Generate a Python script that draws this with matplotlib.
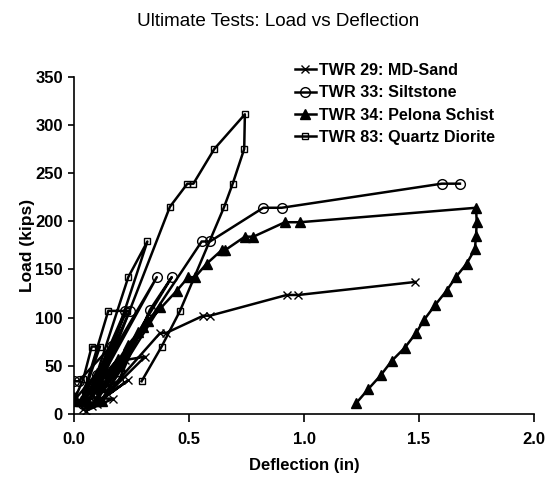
import matplotlib
matplotlib.use("Agg")
import matplotlib.pyplot as plt
import numpy as np

plt.rcParams["font.family"] = ["Liberation Sans", "DejaVu Sans"]

# TWR 29: MD-Sand
md_x = [0.0, 0.04, 0.12, 0.171, 0.05, 0.236, 0.08, 0.222, 0.309, 0.10, 0.374, 0.40, 0.562, 0.591,
        0.925, 0.975, 1.483]
md_y = [21, 5, 16, 16, 3, 35, 8, 56, 59.5, 10, 84, 84, 102, 102,
        123.5, 123.5, 137]

# TWR 33: Siltstone
ss_x = [0.0, 0.02, 0.164, 0.04, 0.10, 0.222, 0.243, 0.06, 0.36, 0.06, 0.193, 0.33, 0.425, 0.14,
        0.555, 0.591, 0.823, 0.903, 1.599, 1.678]
ss_y = [34, 34, 71, 10, 40, 107, 107, 12, 142, 20, 34, 108, 142, 30,
        179, 179, 214, 214, 239, 239]

# TWR 34: Pelona Schist
ps_x = [0.0, 0.05, 0.10, 0.03, 0.09, 0.14, 0.19, 0.06, 0.12, 0.236, 0.28, 0.09, 0.20, 0.323, 0.374,
        0.12, 0.30, 0.447, 0.497, 0.526, 0.577, 0.642, 0.657, 0.743, 0.78, 0.917, 0.983,
        1.748, 1.751, 1.748, 1.743, 1.707, 1.66, 1.62, 1.57, 1.523, 1.487, 1.439, 1.381, 1.333,
        1.28, 1.226]
ps_y = [14, 28, 43, 14, 28, 43, 57, 14, 28, 72, 85, 14, 50, 97, 111,
        14, 90, 128, 142, 142, 156, 170, 170, 184, 184, 199, 199,
        214, 199, 185, 171, 156, 142, 128, 113, 98, 84, 69, 55, 40,
        26, 11]

# TWR 83: Quartz Diorite
qd_x = [0.0, 0.04, 0.077, 0.113, 0.03, 0.149, 0.229, 0.07, 0.236, 0.319, 0.10, 0.417, 0.493, 0.519,
        0.61, 0.743, 0.74, 0.69, 0.653, 0.461, 0.381, 0.294]
qd_y = [14, 36, 70, 70, 12, 107, 107, 20, 142, 179, 20, 215, 239, 239,
        275, 311, 275, 239, 215, 107, 70, 34]

fig = plt.figure(figsize=(5.56, 4.79), dpi=100)
ax = fig.add_axes([74 / 556, 1 - 414 / 479, 460 / 556, 337.3 / 479])

lw = 1.8
ax.plot(md_x, md_y, color="black", lw=lw, marker="x", ms=6, mew=1.0, label="TWR 29: MD-Sand")
ax.plot(ss_x, ss_y, color="black", lw=lw, marker="o", ms=7, mfc="none", mew=1.0, label="TWR 33: Siltstone")
ax.plot(ps_x, ps_y, color="black", lw=lw, marker="^", ms=7.5, mfc="black", label="TWR 34: Pelona Schist")
ax.plot(qd_x, qd_y, color="black", lw=lw, marker="s", ms=4.5, mfc="none", mew=1.0, label="TWR 83: Quartz Diorite")

ax.set_xlim(0, 2.0)
ax.set_ylim(0, 350)
ax.set_xticks(np.arange(0, 2.01, 0.5))
ax.set_yticks(np.arange(0, 351, 50))
ax.xaxis.set_major_formatter(matplotlib.ticker.FormatStrFormatter("%.1f"))
for s in ["top", "right"]:
    ax.spines[s].set_visible(False)
for s in ["left", "bottom"]:
    ax.spines[s].set_linewidth(1.2)
ax.tick_params(width=1.2, labelsize=12)
ax.tick_params(axis="x", length=6, pad=7)
ax.tick_params(axis="y", length=4, pad=4)
for lab in ax.get_xticklabels() + ax.get_yticklabels():
    lab.set_fontweight("bold")

ax.set_xlabel("Deflection (in)", fontsize=12, fontweight="bold", labelpad=8)
ax.set_ylabel("Load (kips)", fontsize=12.5, fontweight="bold", labelpad=0)
fig.text(0.5, 1 - 22 / 479, "Ultimate Tests: Load vs Deflection", ha="center", va="center", fontsize=13.6)

ax.legend(loc="upper left", bbox_to_anchor=(295 / 556, 1 - 63 / 479), bbox_transform=fig.transFigure,
          frameon=False, prop={"weight": "bold", "size": 11.6}, handlelength=1.3, handletextpad=0.2,
          labelspacing=0.45, borderpad=0, borderaxespad=0, numpoints=1)

fig.savefig("out.png", dpi=100)
